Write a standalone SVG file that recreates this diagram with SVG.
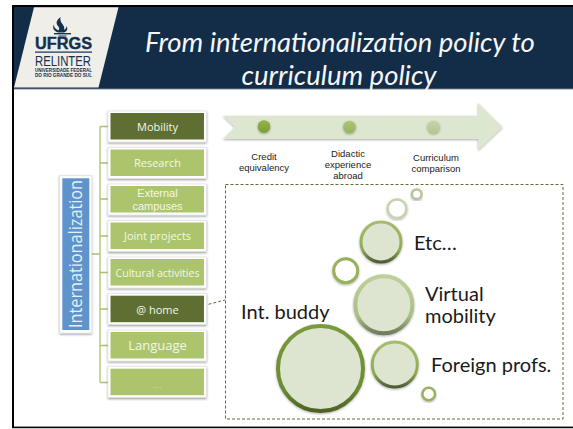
<svg xmlns="http://www.w3.org/2000/svg" width="573" height="429" viewBox="0 0 573 429">
<style>
.frame{fill:#fff;stroke:#dcdcdc;stroke-width:.6;filter:url(#sh)}
.lt{fill:#acc56c}.dk{fill:#5f6f33}
.bl{font-family:"Open Sans","Liberation Sans",sans-serif;font-size:11px;fill:#f3f7e8;text-anchor:middle}
.cap{font-family:"Liberation Sans",Arial,sans-serif;font-size:9.500px;fill:#222;text-anchor:middle}
.big{font-family:Lato,"Open Sans",sans-serif;font-size:20px;fill:#1a1a1a}
.title{font-family:Lato,"Open Sans",sans-serif;font-style:italic;font-size:27.500px;fill:#f4f6f8;text-anchor:middle}
.conn{stroke:#a9c46c;stroke-width:1.3;fill:none}
.c{fill:#dde5d0;filter:url(#sh2)}
.r{fill:#fff;filter:url(#sh2)}
.logo{font-family:"Liberation Sans",Arial,sans-serif;fill:#14304d}
</style>
<defs>
<filter id="sh" x="-10%" y="-10%" width="120%" height="125%"><feDropShadow dx="0" dy="1.2" stdDeviation="0.9" flood-color="#000" flood-opacity=".4"/></filter>
<filter id="sh2" x="-15%" y="-15%" width="130%" height="130%"><feDropShadow dx="0" dy="1" stdDeviation="0.9" flood-color="#333" flood-opacity=".4"/></filter>
<linearGradient id="g1" x1="0" y1="0" x2="0" y2="1"><stop offset="0" stop-color="#7a9a3c"/><stop offset=".75" stop-color="#6c8a33"/><stop offset="1" stop-color="#4d6223"/></linearGradient>
<linearGradient id="g2" x1="0" y1="0" x2="0" y2="1"><stop offset="0" stop-color="#a5bd6c"/><stop offset=".7" stop-color="#8fab55"/><stop offset="1" stop-color="#4f5c38"/></linearGradient>
<linearGradient id="g3" x1="0" y1="0" x2="0" y2="1"><stop offset="0" stop-color="#bdd09a"/><stop offset=".7" stop-color="#aabf84"/><stop offset="1" stop-color="#6f7c5c"/></linearGradient>
<linearGradient id="dot1" x1="0" y1="0" x2="0" y2="1"><stop offset="0" stop-color="#95b544"/><stop offset="1" stop-color="#7d9c3a"/></linearGradient>
<linearGradient id="dot2" x1="0" y1="0" x2="0" y2="1"><stop offset="0" stop-color="#adc574"/><stop offset="1" stop-color="#9ab364"/></linearGradient>
<linearGradient id="dot3" x1="0" y1="0" x2="0" y2="1"><stop offset="0" stop-color="#c5d5a8"/><stop offset="1" stop-color="#b3c594"/></linearGradient>
</defs>
<rect width="573" height="429" fill="#fff"/>
<g id="frame">
<rect x="14" y="7" width="559" height="82" fill="#132c47"/>
<rect x="14" y="88.700" width="559" height="1" fill="#a4adb6"/>
<rect x="12" y="5" width="561" height="2" fill="#000"/>
<rect x="12" y="5" width="2" height="423" fill="#000"/>
<rect x="12" y="426.600" width="561" height="1.600" fill="#000"/>
</g>
<g id="logo">
<polygon points="34,7.300 118.500,7.300 98.500,87.500 14,87.500" fill="#efeee8"/>
<path d="M60.500 17c-4 3-5 6-2.500 9 1.500 1.800 1.500 3 .5 4.500-3-1.500-5-3.500-4.500-6-2 3-.5 6.500 4 8h6c3.500-1.500 4-4 2.500-6.500 0 2-1 3.200-2.500 4 1-2.500-.5-4.500-2-6.500-1.500-2-2-4 -1.500-6.500z" fill="#14304d"/>
<rect x="54" y="33" width="17" height="1.400" fill="#14304d"/>
<rect x="58.500" y="35.500" width="8" height="1" fill="#14304d"/>
<text class="logo" x="35" y="48.500" font-size="16" font-weight="bold" stroke="#14304d" stroke-width=".4" textLength="57" lengthAdjust="spacingAndGlyphs">UFRGS</text>
<rect x="35" y="51.500" width="57" height="1.200" fill="#14304d"/>
<text class="logo" x="35" y="66" font-size="14" textLength="56" lengthAdjust="spacingAndGlyphs">RELINTER</text>
<text class="logo" x="35" y="71.800" font-size="4.600" font-weight="bold" textLength="57" lengthAdjust="spacingAndGlyphs">UNIVERSIDADE FEDERAL</text>
<text class="logo" x="35" y="76.800" font-size="4.600" font-weight="bold" textLength="57" lengthAdjust="spacingAndGlyphs">DO RIO GRANDE DO SUL</text>
</g>
<g id="title">
<text class="title" x="340" y="52">From internationalization policy to</text>
<text class="title" x="339" y="85">curriculum policy</text>
</g>
<g id="connectors">
<path class="conn" d="M91 254H100M100 126.500V382.500M100 126.500H108M100 163H108M100 199H108M100 236H108M100 272.500H108M100 309H108M100 345.500H108M100 382.500H108"/>
<path d="M208.500 304.300L225 300" fill="none" stroke="#5f6f33" stroke-width="1" stroke-dasharray="3 2"/>
</g>
<g id="node-internationalization">
<rect class="frame" x="59.800" y="175.500" width="32" height="157.500"/>
<rect x="62.300" y="178.300" width="27" height="151.700" fill="#5e94cb"/>
<text transform="translate(81.500 254) rotate(-90)" text-anchor="middle" font-family="'Open Sans','Liberation Sans',sans-serif" font-size="17.500" fill="#e6eff8" textLength="148" lengthAdjust="spacingAndGlyphs">Internationalization</text>
</g>
<g id="node-mobility"><rect class="frame" x="108" y="111" width="98.500" height="31"/><rect class="dk" x="110.500" y="113" width="93.500" height="26.500"/><text class="bl" x="157.500" y="130.500">Mobility</text></g>
<g id="node-research"><rect class="frame" x="108" y="147.500" width="98.500" height="31"/><rect class="lt" x="110.500" y="149.500" width="93.500" height="26.500"/><text class="bl" x="157.500" y="167">Research</text></g>
<g id="node-external"><rect class="frame" x="108" y="184" width="98.500" height="31"/><rect class="lt" x="110.500" y="186" width="93.500" height="26.500"/><text class="bl" x="157.500" y="197" style="font-family:'Liberation Sans',Arial,sans-serif"><tspan x="157.500">External</tspan><tspan x="157.500" dy="13">campuses</tspan></text></g>
<g id="node-joint"><rect class="frame" x="108" y="220.500" width="98.500" height="31"/><rect class="lt" x="110.500" y="222.500" width="93.500" height="26.500"/><text class="bl" x="157.500" y="240">Joint projects</text></g>
<g id="node-cultural"><rect class="frame" x="108" y="257" width="98.500" height="31"/><rect class="lt" x="110.500" y="259" width="93.500" height="26.500"/><text class="bl" x="157.500" y="276.500" style="font-size:10.500px">Cultural activities</text></g>
<g id="node-home"><rect class="frame" x="108" y="293.500" width="98.500" height="31"/><rect class="dk" x="110.500" y="295.700" width="93.500" height="26.500"/><text class="bl" x="157.500" y="314">@ home</text></g>
<g id="node-language"><rect class="frame" x="108" y="330" width="98.500" height="31"/><rect class="lt" x="110.500" y="332" width="93.500" height="26.500"/><text class="bl" x="157.500" y="350" style="font-size:13px">Language</text></g>
<g id="node-dots"><rect class="frame" x="108" y="366.500" width="98.500" height="31"/><rect class="lt" x="110.500" y="368.700" width="93.500" height="26.500"/><text class="bl" x="157.500" y="388" style="font-size:8px;fill:#cfdcaa">....</text></g>
<g id="process-arrow">
<polygon points="223,115.700 478,115.700 478,103 502.500,127 478,150 478,139 223,139 235,127" fill="#dde6cf" filter="url(#sh2)"/>
<circle cx="264" cy="126.500" r="6.300" fill="url(#dot1)" filter="url(#sh2)"/>
<circle cx="349.500" cy="127" r="6.300" fill="url(#dot2)" filter="url(#sh2)"/>
<circle cx="433.500" cy="127" r="6.300" fill="url(#dot3)" filter="url(#sh2)"/>
<text class="cap" y="160"><tspan x="264">Credit</tspan><tspan x="264" dy="11">equivalency</tspan></text>
<text class="cap" y="157"><tspan x="348">Didactic</tspan><tspan x="348" dy="11">experience</tspan><tspan x="348" dy="11">abroad</tspan></text>
<text class="cap" y="161"><tspan x="436">Curriculum</tspan><tspan x="436" dy="11">comparison</tspan></text>
</g>
<g id="home-panel">
<rect x="225.500" y="184.500" width="337.500" height="234.500" fill="none" stroke="#5f6f33" stroke-width="1" stroke-dasharray="3 2"/>
<circle class="c" cx="320.500" cy="368.500" r="42.500" stroke="url(#g1)" stroke-width="4"/>
<circle class="c" cx="394.800" cy="364.500" r="22.500" stroke="url(#g2)" stroke-width="3"/>
<circle class="c" cx="383.800" cy="304.700" r="28.500" stroke="url(#g3)" stroke-width="4"/>
<circle class="c" cx="381" cy="242" r="20" stroke="url(#g2)" stroke-width="3"/>
<circle class="r" cx="345.700" cy="270.700" r="12" stroke="#97b25a" stroke-width="3"/>
<circle class="r" cx="397" cy="208.800" r="9.300" stroke="#c5d3ae" stroke-width="2.500"/>
<circle class="r" cx="416.700" cy="194.300" r="4.800" stroke="#b5c79a" stroke-width="2.500"/>
<circle class="r" cx="428.700" cy="394" r="6.300" stroke="#98b35c" stroke-width="2.500"/>
<text class="big" x="241" y="319">Int. buddy</text>
<text class="big" x="414" y="250">Etc…</text>
<text class="big" y="301"><tspan x="425">Virtual</tspan><tspan x="425" dy="22">mobility</tspan></text>
<text class="big" x="431" y="372">Foreign profs.</text>
</g>
</svg>
